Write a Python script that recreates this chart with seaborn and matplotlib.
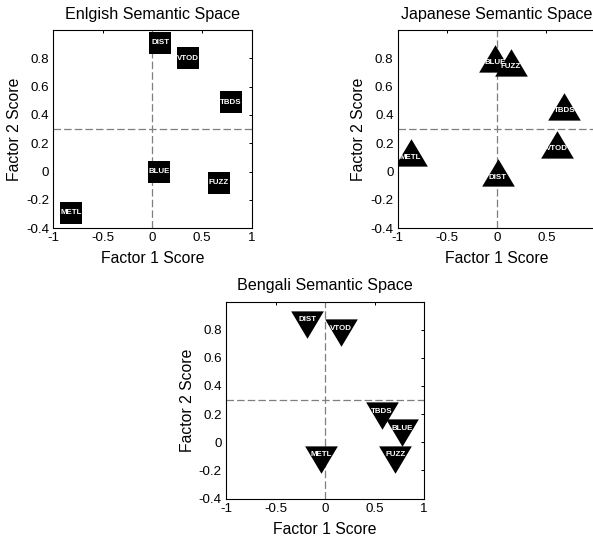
import matplotlib
matplotlib.use("Agg")
import matplotlib.pyplot as plt
import seaborn as sns
import pandas as pd

# Factor scores of the six stimulus words in each language
words_en = ["DIST", "VTOD", "TBDS", "BLUE", "FUZZ", "METL"]
f1_en = [0.08, 0.36, 0.79, 0.07, 0.67, -0.82]
f2_en = [0.91, 0.80, 0.49, 0.00, -0.08, -0.29]

words_ja = ["BLUE", "FUZZ", "TBDS", "VTOD", "METL", "DIST"]
f1_ja = [-0.02, 0.14, 0.68, 0.61, -0.87, 0.01]
f2_ja = [0.77, 0.74, 0.43, 0.16, 0.10, -0.04]

words_bn = ["DIST", "VTOD", "TBDS", "BLUE", "FUZZ", "METL"]
f1_bn = [-0.18, 0.16, 0.57, 0.78, 0.71, -0.04]
f2_bn = [0.87, 0.81, 0.22, 0.10, -0.09, -0.09]

titles = ["Enlgish Semantic Space", "Japanese Semantic Space", "Bengali Semantic Space"]
x_ticks = [-1, -0.5, 0, 0.5, 1]
x_ticklabels = ["-1", "-0.5", "0", "0.5", "1"]
y_ticks = [-0.4, -0.2, 0, 0.2, 0.4, 0.6, 0.8]
y_ticklabels = ["-0.4", "-0.2", "0", "0.2", "0.4", "0.6", "0.8"]
x_ref = 0.0
y_ref = 0.3

sns.set_theme(style="white")
plt.rcParams["font.family"] = ["Liberation Sans", "DejaVu Sans"]
plt.rcParams.update({
    "text.color": "black",
    "axes.labelcolor": "black",
    "axes.titlecolor": "black",
    "axes.edgecolor": "black",
    "axes.linewidth": 0.8,
    "xtick.direction": "in",
    "ytick.direction": "in",
    "xtick.top": True,
    "ytick.right": True,
    "xtick.major.size": 2.5,
    "ytick.major.size": 2.5,
    "xtick.major.width": 0.7,
    "ytick.major.width": 0.7,
    "xtick.color": "black",
    "ytick.color": "black",
    "xtick.labelcolor": "black",
    "ytick.labelcolor": "black",
    "xtick.labelsize": 9.6,
    "ytick.labelsize": 9.6,
    "xtick.major.pad": 3,
    "ytick.major.pad": 3,
})

# Triangles placed with their centroid on the data point
tri_up = [(0, 18.3), (-16.35, -9.13), (16.35, -9.13), (0, 18.3)]
tri_down = [(0, -18.3), (16.35, 9.13), (-16.35, 9.13), (0, -18.3)]

W, H = 593, 539
fig = plt.figure(figsize=(W / 100, H / 100), dpi=100)


def rect(left, top, right, bottom):
    return [left / W, 1 - bottom / H, (right - left) / W, (bottom - top) / H]


panels = [
    (rect(53.3, 30, 251.7, 228.3), words_en, f1_en, f2_en, "s", 274, titles[0]),
    (rect(397.7, 30, 595.9, 228.3), words_ja, f1_ja, f2_ja, tri_up, 694, titles[1]),
    (rect(226, 301.5, 424.2, 498.6), words_bn, f1_bn, f2_bn, tri_down, 694, titles[2]),
]

for pos, words, f1, f2, marker, size, title in panels:
    ax = fig.add_axes(pos)
    df = pd.DataFrame({"word": words, "f1": f1, "f2": f2})
    ax.axhline(y_ref, color="#7f7f7f", lw=0.9, ls=(0, (6, 2.5)), zorder=1)
    ax.axvline(x_ref, color="#7f7f7f", lw=0.9, ls=(0, (6, 2.5)), zorder=1)
    sns.scatterplot(data=df, x="f1", y="f2", marker=marker, s=size,
                    color="black", linewidth=0, legend=False, ax=ax, zorder=3)
    for w, xv, yv in zip(df["word"], df["f1"], df["f2"]):
        ax.text(xv, yv, w, color="white", fontsize=5.7, fontweight="bold",
                ha="center", va="center", zorder=4)
    ax.set_xlim(-1, 1)
    ax.set_ylim(-0.4, 1.0)
    ax.set_xticks(x_ticks)
    ax.set_xticklabels(x_ticklabels)
    ax.set_yticks(y_ticks)
    ax.set_yticklabels(y_ticklabels)
    ax.set_xlabel("Factor 1 Score", fontsize=11.3, labelpad=5, color="black")
    ax.set_ylabel("Factor 2 Score", fontsize=11.3, labelpad=3, color="black")
    ax.set_title(title, fontsize=11.6, pad=8, color="black")
    for sp in ax.spines.values():
        sp.set_visible(True)

fig.savefig("out.png", dpi=100)
